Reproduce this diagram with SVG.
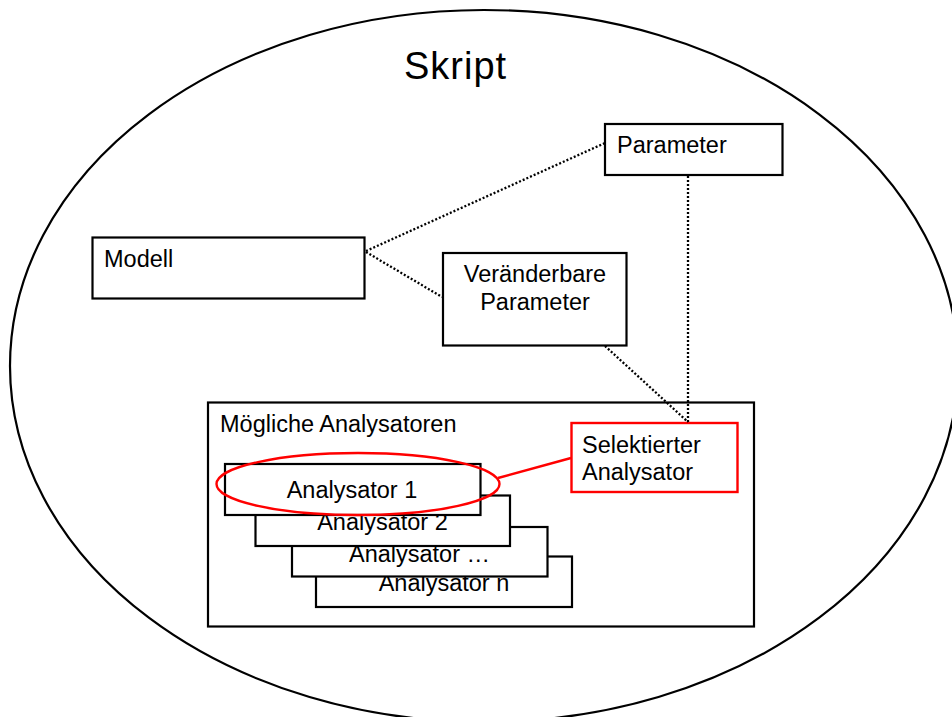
<svg xmlns="http://www.w3.org/2000/svg" width="952" height="717" viewBox="0 0 952 717">
  <style>
    text { font-family: "Liberation Sans", Arial, Helvetica, sans-serif; font-size: 23.5px; fill: #000; }
    .box { fill: #fff; stroke: #000; stroke-width: 2.2; }
    .sel { fill: #fff; stroke: #f00; stroke-width: 2.4; }
    .dot { fill: none; stroke: #000; stroke-width: 2.3; stroke-dasharray: 2 2; }
    .mid { text-anchor: middle; }
  </style>
  <rect width="952" height="717" fill="#fff"/>

  <!-- Script boundary -->
  <g id="skript">
    <ellipse cx="484" cy="366" rx="474" ry="356" fill="none" stroke="#000" stroke-width="2.2"/>
    <text x="404" y="79" style="font-size:38px; letter-spacing:1px">Skript</text>
  </g>

  <g id="modell">
    <rect class="box" x="92.5" y="237.5" width="272" height="61"/>
    <text x="104" y="266.5">Modell</text>
  </g>

  <g id="parameter">
    <rect class="box" x="605" y="124" width="177.5" height="51"/>
    <text x="617" y="152.5">Parameter</text>
  </g>

  <g id="veraenderbare-parameter">
    <rect class="box" x="443" y="253" width="183.5" height="92.5"/>
    <text class="mid" x="535" y="281.5">Veränderbare</text>
    <text class="mid" x="535" y="310">Parameter</text>
  </g>

  <g id="moegliche-analysatoren">
    <rect class="box" x="208" y="402.5" width="546" height="224"/>
    <text x="220" y="431.5">Mögliche Analysatoren</text>
  </g>

  <!-- Stacked analyser cards, back to front -->
  <g id="analysator-n">
    <rect class="box" x="316" y="556.5" width="256" height="50.5"/>
    <text class="mid" x="444" y="590.5">Analysator n</text>
  </g>
  <g id="analysator-dots">
    <rect class="box" x="292" y="527" width="255.5" height="49.5"/>
    <text class="mid" x="419.5" y="561.5">Analysator …</text>
  </g>
  <g id="analysator-2">
    <rect class="box" x="255.5" y="495.5" width="254.5" height="50.5"/>
    <text class="mid" x="382.5" y="530">Analysator 2</text>
  </g>
  <g id="analysator-1">
    <rect class="box" x="225" y="464" width="255.5" height="51"/>
    <text class="mid" x="352" y="498.3">Analysator 1</text>
    <ellipse cx="358" cy="484" rx="141.5" ry="31" fill="none" stroke="#f00" stroke-width="2.4"/>
  </g>

  <g id="selektierter-analysator">
    <rect class="sel" x="571.5" y="423" width="166" height="69"/>
    <text x="582" y="452.5">Selektierter</text>
    <text x="582" y="480">Analysator</text>
  </g>

  <!-- Dotted relations between model, parameters and the selected analyser -->
  <g id="connectors">
    <line class="dot" x1="366" y1="251" x2="605" y2="143"/>
    <line class="dot" x1="366" y1="252" x2="442" y2="297"/>
    <line class="dot" x1="605" y1="346" x2="688" y2="422"/>
    <line class="dot" x1="688" y1="176" x2="688" y2="422"/>
    <line x1="498" y1="478" x2="571" y2="458" stroke="#f00" stroke-width="2.4"/>
  </g>
</svg>
